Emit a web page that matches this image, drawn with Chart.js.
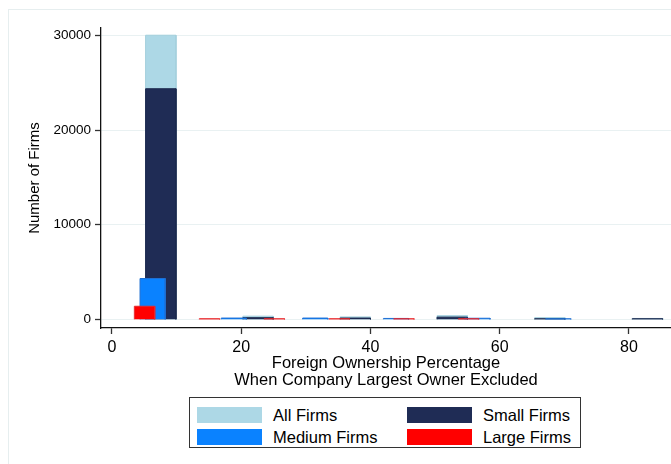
<!DOCTYPE html>
<html>
<head>
<meta charset="utf-8">
<script src="https://cdn.jsdelivr.net/npm/chart.js@4.4.1/dist/chart.umd.min.js"></script>
<style>
    body { margin: 0; background: #fff; }
    .wrap { position: relative; width: 671px; height: 464px; overflow: hidden; font-family: "Liberation Sans", Arial, sans-serif; }
    .frame { position: absolute; left: 8px; top: 9px; width: 700px; height: 500px; border: 1px solid #e6eeef; }
    canvas { position: absolute; left: 0; top: 0; }
    .legend {
        position: absolute; left: 189px; top: 397px; width: 392px; height: 51px;
        border: 1.3px solid #333; background: #fff;
        display: grid; grid-template-columns: 210px 182px; grid-template-rows: 22px 22px;
        padding-top: 6px; box-sizing: border-box;
    }
    .legend .item { display: flex; align-items: center; font-size: 16.5px; color: #000; }
    .legend .swatch { width: 65px; height: 16.5px; margin-left: 7px; margin-right: 11px; }
</style>
</head>
<body>
<div class="wrap">
    <div class="frame"></div>
    <canvas id="hist" width="671" height="464"></canvas>
    <div class="legend"></div>
</div>
<script>
// Data
const seriesNames = ["All Firms", "Small Firms", "Medium Firms", "Large Firms"];
const seriesColors = ["#add8e6", "#1f2c55", "#0a82ff", "#ff0000"];
const seriesBorders = ["#a3cfdc", "#1b274c", "#1f6fd2", "#e8262a"];

const allStarts = [5.2, 20.25, 35.3, 50.3, 65.4, 80.5];
const allCounts = [30050, 330, 250, 380, 170, 90];
const smallStarts = [5.2, 20.25, 35.3, 50.3, 65.4, 80.5];
const smallCounts = [24390, 170, 130, 230, 60, 60];
const mediumStarts = [4.34, 16.9, 29.5, 42.0, 54.6, 67.1];
const mediumCounts = [4315, 130, 130, 90, 110, 60];
const largeStarts = [3.46, 13.5, 23.55, 33.6, 43.6, 53.6];
const largeCounts = [1380, 60, 60, 60, 60, 60];
const binWidths = [4.7, 4.7, 3.9, 3.15];

const xTicks = [0, 20, 40, 60, 80];
const yTicks = [0, 10000, 20000, 30000];
const xTitle = ["Foreign Ownership Percentage", "When Company Largest Owner Excluded"];
const yTitle = "Number of Firms";

// Element
let canvasElement = document.querySelector("#hist");
let legendElement = document.querySelector(".legend");

// Function
const toOutline = (starts, counts, width) => {
    let points = [];
    starts.forEach((s, i) => {
        points.push({x: s, y: 0});
        points.push({x: s, y: counts[i]});
        points.push({x: s + width, y: counts[i]});
        points.push({x: s + width, y: 0});
        points.push({x: s + width, y: null});
    });
    return points;
}

const makeDataset = (i, starts, counts) => {
    return {
        label: seriesNames[i],
        data: toOutline(starts, counts, binWidths[i]),
        backgroundColor: seriesColors[i],
        borderColor: seriesBorders[i],
        borderWidth: 1,
        fill: "origin",
        pointRadius: 0,
        tension: 0,
        spanGaps: false,
        order: 4 - i
    };
}

const buildLegend = () => {
    legendElement.innerHTML = "";
    [0, 1, 2, 3].forEach((i) => {
        let item = document.createElement("div");
        item.className = "item";
        item.innerHTML = `<span class="swatch" style="background:${seriesColors[i]}"></span><span>${seriesNames[i]}</span>`;
        legendElement.appendChild(item);
    });
}

// Init
new Chart(canvasElement, {
    type: "line",
    data: {
        datasets: [
            makeDataset(0, allStarts, allCounts),
            makeDataset(1, smallStarts, smallCounts),
            makeDataset(2, mediumStarts, mediumCounts),
            makeDataset(3, largeStarts, largeCounts)
        ]
    },
    options: {
        responsive: false,
        animation: false,
        devicePixelRatio: 1,
        layout: {padding: {top: 28, left: 0, right: 0, bottom: 0}},
        plugins: {legend: {display: false}, tooltip: {enabled: false}},
        scales: {
            x: {
                type: "linear",
                min: -1.7,
                max: 86.5,
                afterBuildTicks: (scale) => { scale.ticks = xTicks.map((v) => ({value: v})); },
                afterFit: (scale) => { scale.height = 136; },
                grid: {drawOnChartArea: false, tickColor: "#333", tickLength: 6, tickWidth: 1.3},
                border: {color: "#111", width: 1.3},
                ticks: {color: "#000", font: {family: "Liberation Sans", size: 16}, padding: 4, maxRotation: 0},
                title: {
                    display: true,
                    text: xTitle,
                    color: "#000",
                    font: {family: "Liberation Sans", size: 16.5, lineHeight: 17 / 16.5},
                    padding: {top: 0, bottom: 75.5}
                }
            },
            y: {
                min: -920,
                max: 30815,
                afterBuildTicks: (scale) => { scale.ticks = yTicks.map((v) => ({value: v})); },
                afterFit: (scale) => { scale.width = 101; },
                grid: {color: "#e9f1f2", tickColor: "#333", tickLength: 6, tickWidth: 1.3},
                border: {color: "#111", width: 1.3},
                ticks: {
                    color: "#000",
                    font: {family: "Liberation Sans", size: 13.5},
                    padding: 4,
                    callback: (v) => String(v)
                },
                title: {
                    display: true,
                    text: yTitle,
                    color: "#000",
                    font: {family: "Liberation Sans", size: 15},
                    padding: {top: 26, bottom: 0}
                }
            }
        }
    }
});

buildLegend();
</script>
</body>
</html>
